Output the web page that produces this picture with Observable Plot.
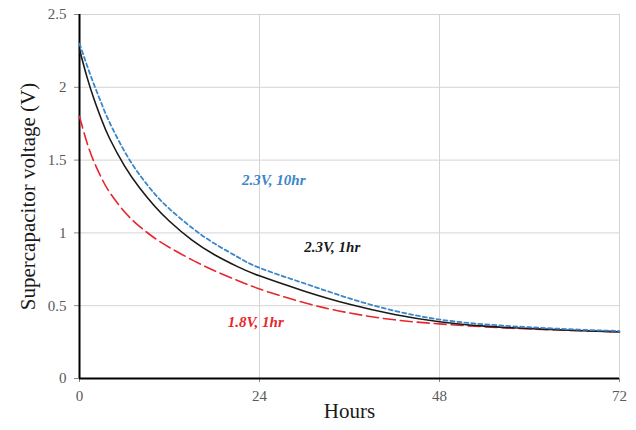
<!DOCTYPE html>
<html>
<head>
<meta charset="utf-8">
<script src="https://cdn.jsdelivr.net/npm/d3@7"></script>
<script src="https://cdn.jsdelivr.net/npm/@observablehq/plot@0.6"></script>
<style>
  html, body { margin: 0; padding: 0; background: #fff; }
  #chart { width: 636px; height: 430px; }
</style>
</head>
<body>
<div id="chart"></div>
<script>
// Hours
const hours = [0, 1, 2, 3, 4, 6, 8, 10, 12, 15, 18, 21, 24, 30, 36, 42, 48, 54, 60, 66, 72];
// 2.3V, 1hr (black, solid)
const v23_1hr = [2.26, 2.07, 1.91, 1.77, 1.65, 1.46, 1.31, 1.185, 1.08, 0.95, 0.85, 0.77, 0.705, 0.60, 0.51, 0.44, 0.39, 0.36, 0.343, 0.33, 0.32];
// 2.3V, 10hr (blue, short dash)
const v23_10hr = [2.30, 2.15, 2.01, 1.88, 1.76, 1.56, 1.40, 1.27, 1.165, 1.035, 0.927, 0.837, 0.76, 0.653, 0.55, 0.465, 0.405, 0.372, 0.352, 0.337, 0.326];
// 1.8V, 1hr (red, long dash)
const v18_1hr = [1.80, 1.62, 1.48, 1.37, 1.28, 1.145, 1.045, 0.965, 0.90, 0.815, 0.74, 0.675, 0.615, 0.52, 0.45, 0.403, 0.375, 0.355, 0.34, 0.33, 0.32];

const xTicks = [0, 24, 48, 72];
const yTicks = [0, 0.5, 1, 1.5, 2, 2.5];

const seriesNames = ["2.3V, 10hr", "2.3V, 1hr", "1.8V, 1hr"];
const seriesColors = ["#3b86c8", "#1a1a1a", "#e8262d"];
// label anchor positions in data units (hours, volts)
const labelHours = [25.9, 33.7, 23.5];
const labelVolts = [1.36, 0.905, 0.385];

const rows = (vals) => hours.map((h, i) => ({h, v: vals[i]}));
const black = rows(v23_1hr), blue = rows(v23_10hr), red = rows(v18_1hr);
const labels = seriesNames.map((name, i) => ({name, h: labelHours[i], v: labelVolts[i], c: seriesColors[i]}));

const chart = Plot.plot({
  width: 636,
  height: 430,
  marginLeft: 79,
  marginRight: 17,
  marginTop: 14,
  marginBottom: 52,
  style: {fontFamily: "'Liberation Serif', 'Times New Roman', serif", background: "#fff"},
  x: {domain: [0, 72]},
  y: {domain: [0, 2.5]},
  marks: [
    Plot.gridY(yTicks, {stroke: "#d4d4d4", strokeOpacity: 1, strokeWidth: 1}),
    Plot.gridX(xTicks, {stroke: "#d4d4d4", strokeOpacity: 1, strokeWidth: 1}),
    Plot.axisY({ticks: yTicks, tickFormat: d => String(d), tickSize: 5, tickPadding: 8, fontSize: 15, color: "#595959", label: null, stroke: "#888"}),
    Plot.axisX({ticks: xTicks, tickFormat: d => String(d), tickSize: 4, tickPadding: 8, fontSize: 15, color: "#595959", label: null, stroke: "#888"}),
    Plot.ruleY([0], {stroke: "#000", strokeWidth: 2}),
    Plot.ruleX([0], {stroke: "#000", strokeWidth: 2}),
    Plot.line(red, {x: "h", y: "v", stroke: seriesColors[2], strokeWidth: 1.6, strokeDasharray: "12,5", curve: "natural"}),
    Plot.line(black, {x: "h", y: "v", stroke: seriesColors[1], strokeWidth: 1.6, curve: "natural"}),
    Plot.line(blue, {x: "h", y: "v", stroke: seriesColors[0], strokeWidth: 1.8, strokeDasharray: "4,3", curve: "natural"}),
    Plot.text(labels, {x: "h", y: "v", text: "name", fill: "c", fontSize: 15, fontWeight: "bold", fontStyle: "italic"}),
    Plot.text(["Supercapacitor voltage (V)"], {frameAnchor: "left", textAnchor: "middle", rotate: -90, dx: -51, fontSize: 21, fill: "#1a1a1a"}),
    Plot.text(["Hours"], {frameAnchor: "bottom", dy: 39, fontSize: 21, fill: "#1a1a1a"})
  ]
});
document.getElementById("chart").append(chart);
</script>
</body>
</html>
